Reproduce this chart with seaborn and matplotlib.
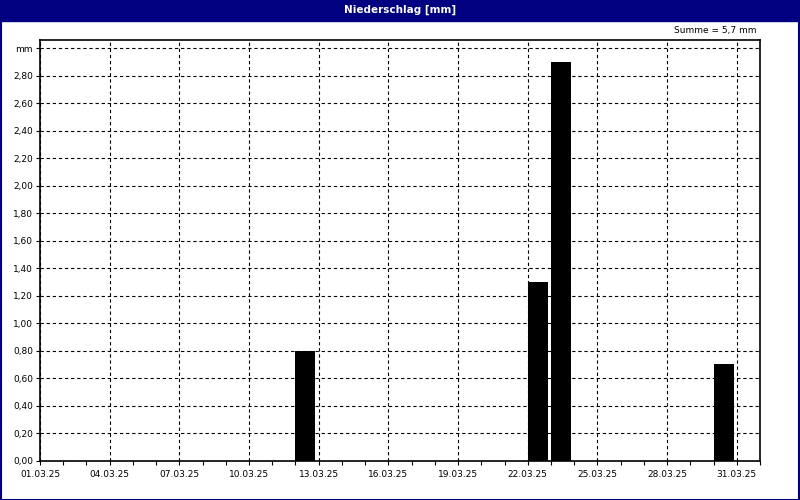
import numpy as np
import pandas as pd
import matplotlib
matplotlib.use("Agg")
import matplotlib.pyplot as plt
import seaborn as sns
from matplotlib.patches import Rectangle
from matplotlib.ticker import FixedLocator, MultipleLocator, FuncFormatter

# data
rain_dates = ["12.03.25", "22.03.25", "23.03.25", "30.03.25"]
rain_mm = [0.8, 1.3, 2.9, 0.7]
month_start = "01.03.25"
n_days = 31
title = "Niederschlag [mm]"
unit = "mm"

NAVY = "#000080"
BAR_W = 0.86

start = pd.to_datetime(month_start, format="%d.%m.%y")
day_idx = (pd.to_datetime(rain_dates, format="%d.%m.%y") - start).days.to_numpy()
df = pd.DataFrame({"day": day_idx + BAR_W / 2, "mm": rain_mm})

sns.set_theme(style="white")
plt.rcParams["font.family"] = ["DejaVu Sans"]

fig = plt.figure(figsize=(8, 5), dpi=100, facecolor="white")
ax = fig.add_axes([40 / 800, 1 - 460.5 / 500, 720 / 800, 420.5 / 500])

sns.barplot(data=df, x="day", y="mm", native_scale=True, width=BAR_W,
            color="black", saturation=1, errorbar=None, edgecolor="black",
            linewidth=0, ax=ax)

ax.set_xlim(0, n_days)
ax.set_ylim(0, 3.06)

major_days = list(range(0, n_days, 3))
ax.xaxis.set_major_locator(FixedLocator(major_days))
ax.xaxis.set_minor_locator(MultipleLocator(1))
ax.set_xticklabels([(start + pd.Timedelta(days=d)).strftime("%d.%m.%y")
                    for d in major_days])

ax.yaxis.set_major_locator(MultipleLocator(0.2))
ax.yaxis.set_major_formatter(FuncFormatter(
    lambda v, p: unit if abs(v - 3.0) < 1e-6 else f"{v:.2f}".replace(".", ",")))

ax.set_xlabel("")
ax.set_ylabel("")
ax.grid(True, which="major", color="black", linestyle=(0, (3, 2.5)),
        linewidth=0.8)
ax.set_axisbelow(True)

for s in ax.spines.values():
    s.set_visible(True)
    s.set_color("black")
    s.set_linewidth(1.2)

ax.tick_params(axis="both", which="major", direction="out", length=3,
               width=0.8, color="black", labelsize=6.5, labelcolor="black",
               pad=2)
ax.tick_params(axis="x", which="minor", direction="out", length=3,
               width=0.8, color="black", bottom=True)
ax.tick_params(axis="x", which="major", bottom=True, pad=4)
ax.tick_params(axis="y", which="major", left=True)

# title bar and frame
fig.patches.append(Rectangle((0, 1 - 21 / 500), 1, 21 / 500,
                             transform=fig.transFigure, color=NAVY,
                             zorder=0))
fig.patches.append(Rectangle((0.001, 0.001), 0.998, 0.998,
                             transform=fig.transFigure, fill=False,
                             edgecolor=NAVY, linewidth=1.5, zorder=5))
fig.text(0.5, 1 - 10 / 500, title, ha="center", va="center", color="white",
         fontsize=7.5, fontweight="bold")
fig.text(757 / 800, 1 - 31 / 500, f"Summe = {sum(rain_mm):.1f} mm".replace(".", ","),
         ha="right", va="center", fontsize=6.5, color="black")

fig.savefig("out.png", dpi=100, facecolor="white")
